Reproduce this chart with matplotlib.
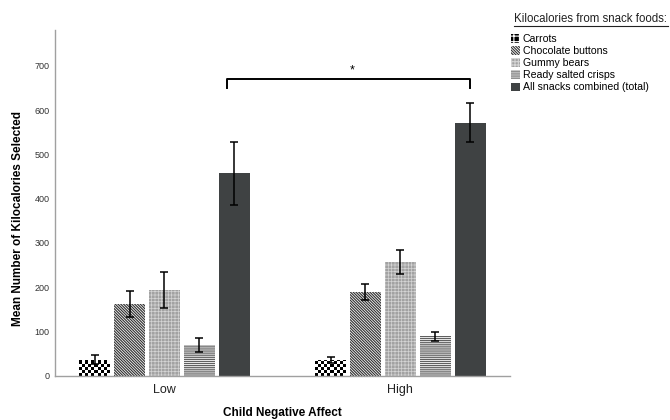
import matplotlib.pyplot as plt
import numpy as np
from matplotlib.patches import Patch
from matplotlib.lines import Line2D

plt.rcParams['font.family'] = ['Liberation Sans', 'DejaVu Sans']

groups = ['Low', 'High']
snacks = ['Carrots', 'Chocolate buttons', 'Gummy bears', 'Ready salted crisps',
          'All snacks combined (total)']
means = {
    'Low':  [37, 162, 194, 70, 457],
    'High': [36, 189, 257, 89, 571],
}
errs = {
    'Low':  [10, 30, 40, 16, 71],
    'High': [7, 18, 26, 10, 44],
}
yticks = [0, 100, 200, 300, 400, 500, 600, 700]

# face, hatch colour, hatch, hatch linewidth
styles = [
    ('black', 'white', '+++', 1.0),
    ('white', '#333333', '\\' * 12, 0.85),
    ('#a2a2a2', '#d4d4d4', '+++++', 0.5),
    ('white', '#606060', '-' * 8, 0.9),
    ('#3f4243', '#3f4243', '', 0.9),
]

fig = plt.figure(figsize=(6.7, 4.2), dpi=100)
ax = fig.add_axes([0.082, 0.105, 0.679, 0.824])

x = np.arange(len(groups))
pitch = 0.148
width = 0.131
bars_total = []
for i, (name, (fc, hc, h, hlw)) in enumerate(zip(snacks, styles)):
    vals = [means[g][i] for g in groups]
    e = [errs[g][i] for g in groups]
    pos = x + (i - 2) * pitch
    if i == 0:
        # checkerboard texture for carrots, clipped to each bar
        b = ax.bar(pos, vals, width, color='white', linewidth=0)
        sq = 6.8
        for rect, v in zip(b, vals):
            ny = int(np.ceil(v / sq))
            board = (np.indices((ny, 10)).sum(axis=0) % 2).astype(float)
            im = ax.imshow(board, cmap='gray', extent=[rect.get_x(), rect.get_x() + width,
                                                       0, ny * sq],
                           origin='lower', aspect='auto', interpolation='nearest',
                           zorder=rect.get_zorder() + 0.1)
            im.set_clip_path(rect)
    else:
        with plt.rc_context({'hatch.linewidth': hlw}):
            ax.bar(pos, vals, width, color=fc, edgecolor=hc, hatch=h, linewidth=0)
    ax.errorbar(pos, vals, yerr=e, fmt='none', ecolor='black', elinewidth=1.1,
                capsize=3, capthick=1.1, zorder=5)
    if i == 4:
        bars_total = pos

# significance bracket between the totals
by, bt = 670, 650
ax.plot([bars_total[0] - 0.03, bars_total[0] - 0.03, bars_total[1], bars_total[1]],
        [bt, by, by, bt], color='black', lw=1.4)
ax.text((bars_total[0] + bars_total[1]) / 2, by + 6, '*', ha='center', va='bottom',
        fontsize=9)

ax.set_xlim(-0.464, 1.464)
ax.set_ylim(0, 781)
ax.set_xticks(x)
ax.set_xticklabels(groups, fontsize=9, color='#222222')
ax.set_yticks(yticks)
ax.set_yticklabels([str(t) for t in yticks], fontsize=6.5, color='#333333')
ax.tick_params(length=0, pad=4)
ax.tick_params(axis='x', pad=6)
for s in ['top', 'right']:
    ax.spines[s].set_visible(False)
for s in ['left', 'bottom']:
    ax.spines[s].set_color('#a0a0a0')
    ax.spines[s].set_linewidth(1.0)

fig.text(282 / 670, 1 - 413 / 420, 'Child Negative Affect', ha='center', va='center',
         fontsize=8.5, fontweight='bold')
fig.text(18 / 670, 1 - 219 / 420, 'Mean Number of Kilocalories Selected', ha='center',
         va='center', rotation=90, fontsize=8.5, fontweight='bold')

# legend
fig.text(514 / 670, 1 - 19 / 420, 'Kilocalories from snack foods:', fontsize=8.3,
         ha='left', va='center', color='#222222')
fig.add_artist(Line2D([514 / 670, 668 / 670], [1 - 26 / 420, 1 - 26 / 420],
                      color='#222222', lw=0.8))
handles = []
for name, (fc, hc, h, hlw) in zip(snacks, styles):
    handles.append(Patch(facecolor=fc, edgecolor=hc, hatch=h, linewidth=0, label=name))
with plt.rc_context({'hatch.linewidth': 0.8}):
    fig.legend(handles=handles, loc='upper left', bbox_to_anchor=(511 / 670, 1 - 34 / 420),
               frameon=False, fontsize=7.6, handlelength=0.85, handleheight=0.85,
               handletextpad=0.25, labelspacing=0.2, borderpad=0, borderaxespad=0)

fig.savefig('out.png', dpi=100)
